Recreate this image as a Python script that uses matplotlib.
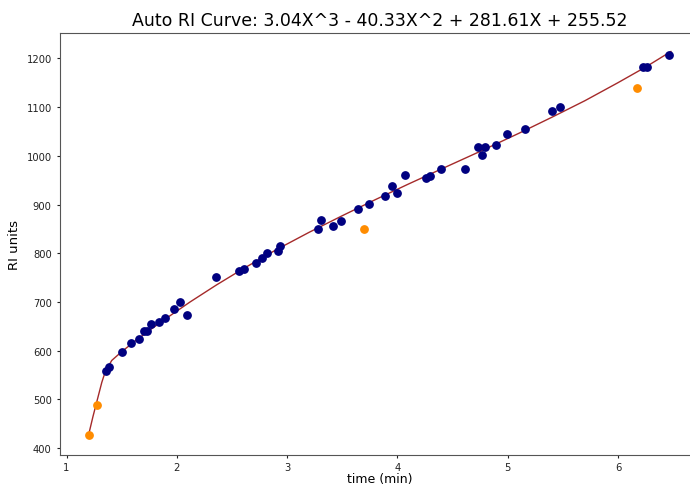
import numpy as np
import matplotlib.pyplot as plt

# calibration points (blue)
time_pts = [1.358, 1.385, 1.503, 1.585, 1.657, 1.703, 1.730, 1.766, 1.839, 1.894,
            1.975, 2.030, 2.093, 2.356, 2.564, 2.610, 2.718, 2.772, 2.818, 2.918,
            2.936, 3.280, 3.307, 3.416, 3.489, 3.643, 3.743, 3.888, 3.951, 3.996,
            4.069, 4.260, 4.296, 4.395, 4.613, 4.731, 4.767, 4.794, 4.894, 4.994,
            5.157, 5.402, 5.474, 6.227, 6.263, 6.462]
ri_pts = [559, 567, 598, 616, 624, 641, 641, 655, 659, 667,
          686, 700, 673, 751, 764, 768, 780, 790, 801, 805,
          815, 850, 868, 856, 866, 891, 901, 917, 938, 924,
          961, 955, 959, 973, 973, 1018, 1002, 1018, 1022, 1045,
          1055, 1092, 1100, 1182, 1182, 1207]

# outliers (orange)
time_out = [1.204, 1.277, 3.697, 6.172]
ri_out = [427, 489, 850, 1139]

# fitted curve
curve_t = [1.20, 1.24, 1.28, 1.32, 1.35, 1.41, 1.50, 1.64, 1.79, 1.94, 2.12, 2.36,
           2.60, 2.90, 3.20, 3.50, 3.80, 4.10, 4.40, 4.75, 5.10, 5.40, 5.70, 6.00,
           6.25, 6.48]
curve_ri = [427, 465, 500, 535, 556, 580, 598, 623, 648, 672, 700, 735,
            768, 807, 843, 877, 910, 942, 973, 1009, 1046, 1079, 1113, 1150,
            1182, 1214]

title = "Auto RI Curve: 3.04X^3 - 40.33X^2 + 281.61X + 255.52"

fig = plt.figure(figsize=(6.9, 4.85), dpi=100)
W, H = 690, 485
ax = fig.add_axes([60 / W, (H - 456) / H, 640 / W, 422 / H])

ax.plot(curve_t, curve_ri, color="brown", linewidth=1, zorder=1)
ax.scatter(time_pts, ri_pts, color="navy", s=28, zorder=2)
ax.scatter(time_out, ri_out, color="darkorange", s=28, zorder=2)

ax.set_xlim(0.941, 6.744)
ax.set_ylim(386, 1252)
ax.set_xticks([1, 2, 3, 4, 5, 6])
ax.set_yticks([400, 500, 600, 700, 800, 900, 1000, 1100, 1200])
ax.tick_params(labelsize=7.2, length=2.5, width=0.8, colors="#222222")
ax.tick_params(axis="x", pad=2.5)
for s in ax.spines.values():
    s.set_color("#555555")

ax.set_xlabel("time (min)", fontsize=9, labelpad=0)
ax.set_ylabel("RI units", fontsize=9.5, labelpad=4)
ax.set_title(title, fontsize=12.5, pad=6)

fig.savefig("out.png", dpi=100)
